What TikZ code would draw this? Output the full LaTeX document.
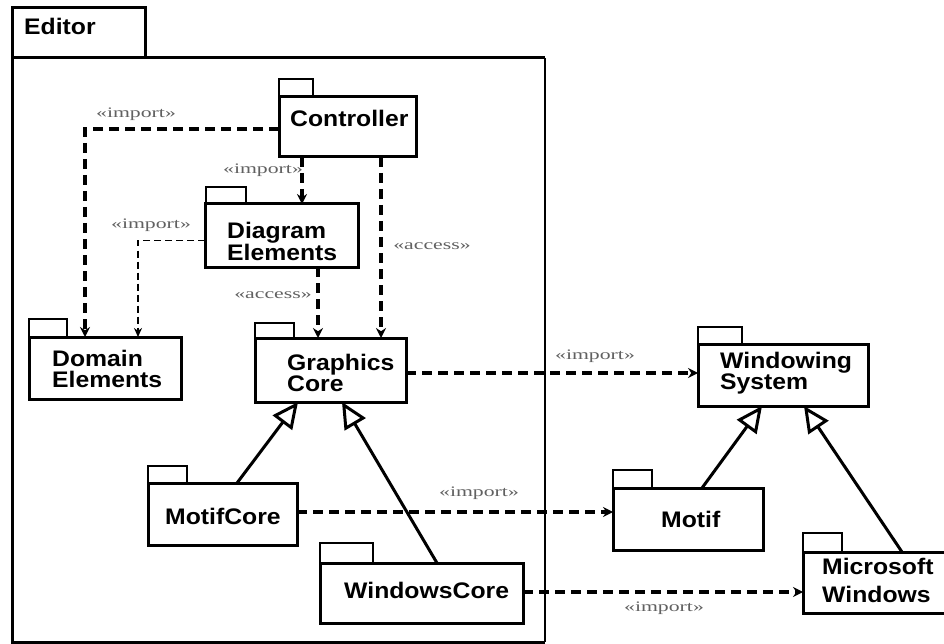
\documentclass[tikz,border=0pt]{standalone}
\usepackage{fontspec}
\setmainfont{Liberation Serif}
\newfontfamily\pkgfont{Liberation Sans}[FakeStretch=1.1]
\newfontfamily\lblfont{Liberation Serif}[FakeStretch=1.5]
\usetikzlibrary{arrows.meta,calc}
\begin{document}
\begin{tikzpicture}[x=1pt,y=-1pt,
  pkg/.style={draw, line width=3pt, fill=white, inner sep=0pt, outer sep=0pt},
  tab/.style={draw, line width=2.6pt, fill=white},
  ptext/.style={anchor=north west, inner sep=0pt, align=left, font=\pkgfont\bfseries\fontsize{22.5}{21}\selectfont},
  lbl/.style={font=\lblfont\fontsize{14.5}{16}\selectfont, text=black!62, inner sep=0pt},
  dep/.style={line width=3.4pt, dash pattern=on 10pt off 6pt, -{Stealth[length=10pt,width=10pt]}},
  depthin/.style={line width=1.8pt, dash pattern=on 7pt off 4pt, -{Stealth[length=9pt,width=8pt]}},
  gen/.style={line width=3pt, -{Triangle[open,length=26pt,width=24pt,fill=white]}}]
\useasboundingbox (0,0) rectangle (944,644);
\fill[white] (0,0) rectangle (944,644);

% Editor package frame
\draw[line width=3pt] (12,8) rectangle (145,58);
\draw[line width=3pt] (12,58) -- (12,642) -- (545,642);
\draw[line width=3pt] (12,58) -- (545,58);
\draw[line width=2pt] (545,58) -- (545,642);
\node[ptext] (editor-t) at (24,18) {Editor};

% tabs
\draw[tab] (279,79) rectangle (313,97);
\draw[tab] (206,187) rectangle (246,204);
\draw[tab] (29,319) rectangle (67,337);
\draw[tab] (255,323) rectangle (294,338);
\draw[tab] (148,466) rectangle (187,483);
\draw[tab] (320,543) rectangle (373,563);
\draw[tab] (698,327) rectangle (742,344);
\draw[tab] (613,470) rectangle (652,488);
\draw[tab] (803,533) rectangle (842,552);

% package bodies
\node[pkg, minimum width=137pt, minimum height=60pt] (ctrl) at (347.5,127) {};
\node[pkg, minimum width=153pt, minimum height=63pt] (diag) at (281.5,235.5) {};
\node[pkg, minimum width=152pt, minimum height=62pt] (dom) at (105,368) {};
\node[pkg, minimum width=151pt, minimum height=64pt] (gfx) at (330.5,370) {};
\node[pkg, minimum width=149pt, minimum height=62pt] (mcore) at (222.5,514) {};
\node[pkg, minimum width=203pt, minimum height=60pt] (wcore) at (421.5,593) {};
\node[pkg, minimum width=170pt, minimum height=62pt] (wsys) at (783,375) {};
\node[pkg, minimum width=150pt, minimum height=62pt] (motif) at (688,519) {};
\node[pkg, minimum width=143pt, minimum height=61pt] (mswin) at (874.5,582.5) {};

% package names
\node[ptext] (ctrl-t) at (290,110) {Controller};
\node[ptext] (diag-t) at (227,222) {Diagram\\Elements};
\node[ptext] (dom-t) at (52,350) {Domain\\Elements};
\node[ptext] (gfx-t) at (287,354) {Graphics\\Core};
\node[ptext] (mcore-t) at (165,508) {MotifCore};
\node[ptext] (wcore-t) at (344,582) {WindowsCore};
\node[ptext] (wsys-t) at (720,352) {Windowing\\System};
\node[ptext] (motif-t) at (661,511) {Motif};
\node[ptext, font=\pkgfont\bfseries\fontsize{22.5}{28}\selectfont] (mswin-t) at (822,558) {Microsoft\\Windows};

% dependencies
\draw[dep] ($(ctrl.west)+(0,2)$) -| ($(dom.north west)+(56,0)$);
\draw[dep] ($(ctrl.south west)+(23,0)$) -- ($(diag.north west)+(97,0)$);
\draw[dep] ($(ctrl.south west)+(102,0)$) -- ($(gfx.north west)+(126,0)$);
\draw[depthin] ($(diag.west)+(0,5)$) -| ($(dom.north west)+(109,0)$);
\draw[dep] ($(diag.south west)+(113,0)$) -- ($(gfx.north west)+(63,0)$);
\draw[dep] ($(gfx.east)+(0,3)$) -- ($(wsys.west)+(0,-2)$);
\draw[dep] ($(mcore.east)+(0,-2)$) -- ($(motif.west)+(0,-7)$);
\draw[dep] ($(wcore.east)+(0,-1)$) -- ($(mswin.west)+(0,9.5)$);

% dependency labels
\node[lbl] (l1) at (136,114) {«import»};
\node[lbl] (l2) at (263,170) {«import»};
\node[lbl] (l3) at (432,246) {«access»};
\node[lbl] (l4) at (151,225) {«import»};
\node[lbl] (l5) at (273,295) {«access»};
\node[lbl] (l6) at (595,356) {«import»};
\node[lbl] (l7) at (479,493) {«import»};
\node[lbl] (l8) at (664,608) {«import»};

% generalizations
\draw[gen] ($(mcore.north west)+(89,0)$) -- ($(gfx.south west)+(43,0)$);
\draw[gen] ($(wcore.north west)+(117,0)$) -- ($(gfx.south west)+(87,0)$);
\draw[gen] ($(motif.north west)+(89,0)$) -- ($(wsys.south west)+(64,0)$);
\draw[gen] ($(mswin.north west)+(99,0)$) -- ($(wsys.south west)+(106,0)$);
\end{tikzpicture}
\end{document}
